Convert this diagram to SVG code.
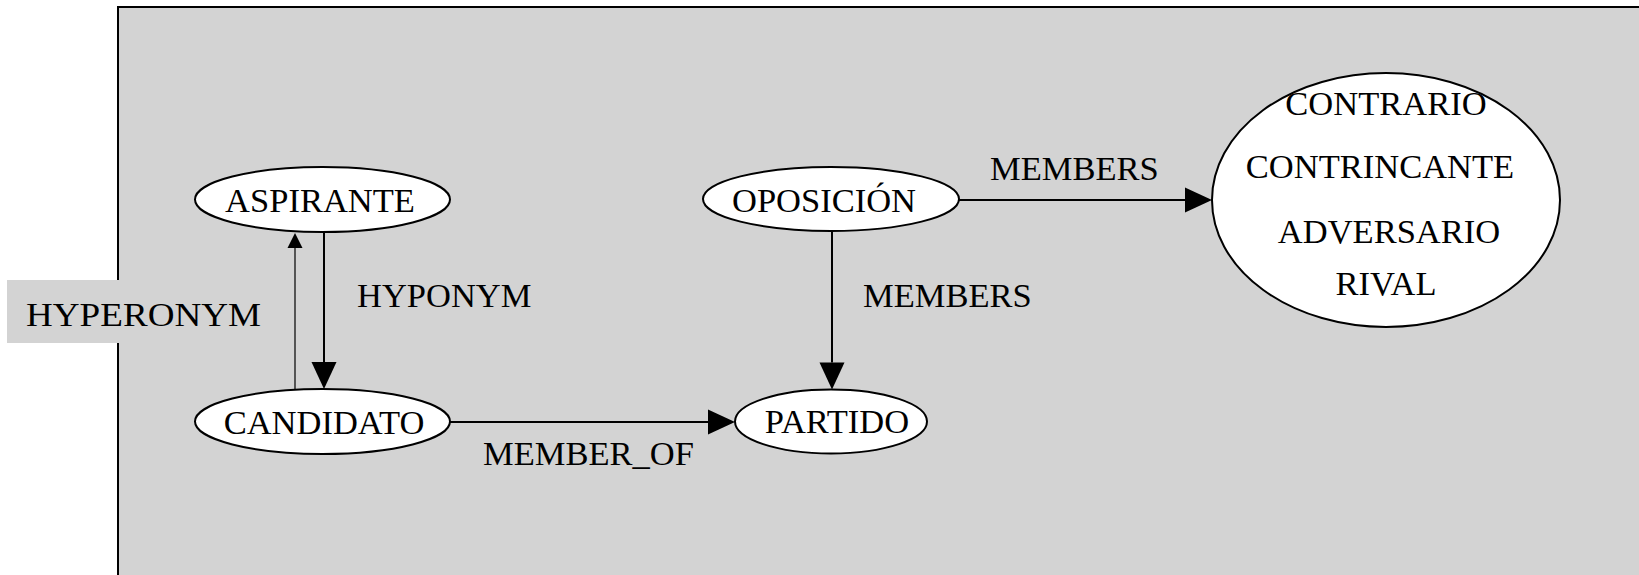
<svg xmlns="http://www.w3.org/2000/svg" width="1639" height="575" viewBox="0 0 1639 575">
<style>
  text { font-family: "Liberation Serif", "Times New Roman", serif; font-size: 34.5px; fill: #000; }
  .node ellipse { fill: #fff; stroke: #000; stroke-width: 2; }
  .node text { text-anchor: middle; }
  .edge { stroke: #000; stroke-width: 2; fill: none; }
  .thin { stroke: #000; stroke-width: 1.2; fill: none; }
</style>
<defs>
  <marker id="arrow" markerUnits="userSpaceOnUse" markerWidth="27" markerHeight="25" refX="0" refY="12.5" orient="auto" overflow="visible">
    <path d="M0,0 L27,12.5 L0,25 Z" fill="#000"/>
  </marker>
  <marker id="arrowSmall" markerUnits="userSpaceOnUse" markerWidth="15" markerHeight="15" refX="0" refY="7.5" orient="auto" overflow="visible">
    <path d="M0,0 L15,7.5 L0,15 Z" fill="#000"/>
  </marker>
</defs>
<rect x="0" y="0" width="1639" height="575" fill="#fff"/>
<g id="frame">
  <rect x="118" y="7" width="1560" height="600" fill="#d3d3d3" stroke="#000" stroke-width="2"/>
</g>
<g id="hyperonym-label">
  <rect x="7" y="280" width="274" height="63" fill="#d3d3d3"/>
  <text x="26" y="326" textLength="235" lengthAdjust="spacingAndGlyphs">HYPERONYM</text>
</g>
<g id="connectors">
  <line class="edge" x1="324" y1="232" x2="324" y2="362" marker-end="url(#arrow)"/>
  <line class="thin" x1="295" y1="390" x2="295" y2="248" marker-end="url(#arrowSmall)"/>
  <line class="edge" x1="450" y1="422" x2="708" y2="422" marker-end="url(#arrow)"/>
  <line class="edge" x1="832" y1="231" x2="832" y2="362.5" marker-end="url(#arrow)"/>
  <line class="edge" x1="959" y1="200" x2="1185" y2="200" marker-end="url(#arrow)"/>
  <text x="357" y="307">HYPONYM</text>
  <text x="483" y="465">MEMBER_OF</text>
  <text x="863" y="307">MEMBERS</text>
  <text x="990" y="180">MEMBERS</text>
</g>
<g id="node-aspirante" class="node">
  <ellipse cx="322.5" cy="199.5" rx="127.5" ry="32.5"/>
  <text x="320" y="212">ASPIRANTE</text>
</g>
<g id="node-candidato" class="node">
  <ellipse cx="322.5" cy="421.5" rx="127.5" ry="32.5"/>
  <text x="324" y="434">CANDIDATO</text>
</g>
<g id="node-oposicion" class="node">
  <ellipse cx="831" cy="199" rx="128" ry="32"/>
  <text x="824" y="212">OPOSICIÓN</text>
</g>
<g id="node-partido" class="node">
  <ellipse cx="831" cy="421.5" rx="96" ry="32"/>
  <text x="837" y="433">PARTIDO</text>
</g>
<g id="node-contrario" class="node">
  <ellipse cx="1386" cy="200" rx="174" ry="127"/>
  <text x="1386" y="115">CONTRARIO</text>
  <text x="1380" y="178">CONTRINCANTE</text>
  <text x="1389" y="243">ADVERSARIO</text>
  <text x="1386" y="295">RIVAL</text>
</g>
</svg>
